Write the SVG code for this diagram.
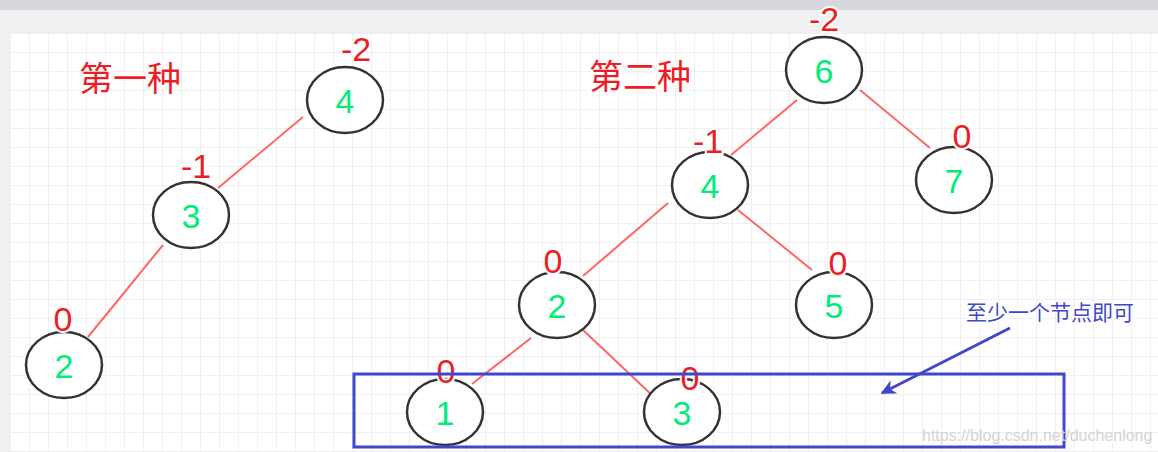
<svg xmlns="http://www.w3.org/2000/svg" width="1158" height="452" viewBox="0 0 1158 452">
<defs>
<pattern id="g" x="10" y="33" width="19" height="19" patternUnits="userSpaceOnUse"><path d="M0 0H19M0 0V19" stroke="#e2e2e2" stroke-width="1" fill="none"/></pattern>
<marker id="ar" viewBox="0 0 10 10" refX="9" refY="5" markerWidth="6" markerHeight="5" orient="auto" markerUnits="strokeWidth"><path d="M0 0L10 5L0 10L3 5Z" fill="#3f48cc"/></marker>
</defs>
<style>
.n ellipse{fill:#fff;stroke:#333;stroke-width:2.5}
.n text{font-family:"Liberation Sans",Arial,sans-serif;font-size:34px;fill:#00ee77;text-anchor:middle}
.b{font-family:"Liberation Sans",Arial,sans-serif;font-size:34px;fill:#ee1c24;text-anchor:middle;stroke:#fff;stroke-width:4;paint-order:stroke}
.t{font-family:"Noto Sans CJK SC",sans-serif;font-size:34px;fill:#ee1c24;stroke:#fff;stroke-width:4;paint-order:stroke}
.e line{stroke:#ff6666;stroke-width:2}
</style>
<rect width="1158" height="452" fill="#f0f0f0"/>
<rect width="1158" height="10" fill="#d8d8dc"/>
<rect x="10" y="33" width="1148" height="419" fill="#fff"/>
<rect x="10" y="33" width="1148" height="419" fill="url(#g)"/>
<text class="t" x="79" y="91">第一种</text>
<text class="t" x="589" y="89">第二种</text>
<g class="e">
<line x1="303" y1="117" x2="218" y2="188"/><line x1="163" y1="245" x2="88" y2="337"/>
<line x1="797" y1="100" x2="731" y2="155"/><line x1="860" y1="90" x2="930" y2="148"/>
<line x1="668" y1="203" x2="583" y2="276"/><line x1="738" y1="210" x2="812" y2="270"/>
<line x1="531" y1="338" x2="472" y2="384"/><line x1="583" y1="330" x2="655" y2="398"/>
<line x1="1010" y1="328" x2="882" y2="393" style="stroke:#3f48cc;stroke-width:3" marker-end="url(#ar)"/>
</g>
<g id="n4a" class="n"><ellipse cx="345" cy="100" rx="38" ry="33"/><text x="345" y="113">4</text></g>
<g id="n3a" class="n"><ellipse cx="191" cy="215" rx="38" ry="33"/><text x="191" y="228">3</text></g>
<g id="n2a" class="n"><ellipse cx="64" cy="365" rx="38" ry="33"/><text x="64" y="378">2</text></g>
<g id="n6" class="n"><ellipse cx="824" cy="70" rx="38" ry="33"/><text x="824" y="83">6</text></g>
<g id="n7" class="n"><ellipse cx="954" cy="180" rx="38" ry="33"/><text x="954" y="193">7</text></g>
<g id="n4b" class="n"><ellipse cx="710" cy="185" rx="38" ry="33"/><text x="710" y="198">4</text></g>
<g id="n2b" class="n"><ellipse cx="557" cy="305" rx="38" ry="33"/><text x="557" y="318">2</text></g>
<g id="n5" class="n"><ellipse cx="834" cy="305" rx="38" ry="33"/><text x="834" y="318">5</text></g>
<g id="n1" class="n"><ellipse cx="445" cy="412" rx="38" ry="33"/><text x="445" y="425">1</text></g>
<g id="n3b" class="n"><ellipse cx="682" cy="412" rx="38" ry="33"/><text x="682" y="425">3</text></g>
<text class="b" x="356" y="61">-2</text><text class="b" x="196" y="178">-1</text><text class="b" x="63" y="331">0</text>
<text class="b" x="824" y="31">-2</text><text class="b" x="962" y="148">0</text><text class="b" x="708" y="153">-1</text>
<text class="b" x="553" y="273">0</text><text class="b" x="838" y="275">0</text><text class="b" x="446" y="383">0</text><text class="b" x="690" y="390">0</text>
<rect x="354" y="374" width="710" height="73" fill="none" stroke="#3f48cc" stroke-width="3"/>
<text x="966" y="320" style="font-family:'Noto Sans CJK SC',sans-serif;font-size:21px;fill:#3f48cc;stroke:#fff;stroke-width:3;paint-order:stroke">至少一个节点即可</text>
<text x="922" y="441" style="font-family:'Liberation Sans',Arial,sans-serif;font-size:16px;fill:#d4d4d4">https://blog.csdn.net/duchenlong</text>
</svg>
